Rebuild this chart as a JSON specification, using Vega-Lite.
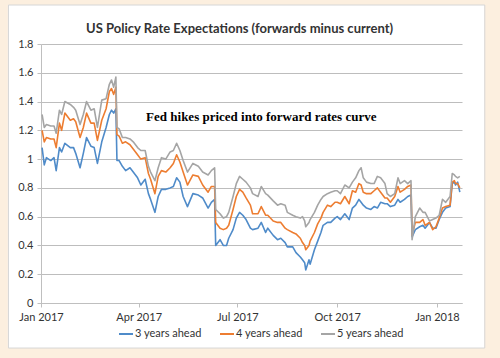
{
  "$schema": "https://vega.github.io/schema/vega-lite/v6.json",
  "autosize": {"type": "none"},
  "width": 421,
  "height": 259,
  "padding": {"left": 41, "top": 44, "right": 38, "bottom": 55},
  "background": "#ffffff",
  "config": {
    "view": {"stroke": null},
    "font": "Lato",
    "axisX": {
      "grid": false,
      "domainColor": "#BFBFBF",
      "tickColor": "#BFBFBF",
      "tickSize": 4,
      "labelFont": "Lato",
      "labelFontSize": 11,
      "labelColor": "#333333",
      "labelPadding": 4,
      "labelFlush": false,
      "labelOverlap": false
    },
    "axisY": {
      "grid": true,
      "gridColor": "#BDBDBD",
      "gridWidth": 1,
      "domainColor": "#BFBFBF",
      "tickColor": "#BFBFBF",
      "tickSize": 4,
      "labelFont": "Lato",
      "labelFontSize": 11,
      "labelColor": "#333333",
      "labelPadding": 4,
      "labelOverlap": false,
      "labelFlush": false
    }
  },
  "layer": [
    {
      "data": {"values": [{}]},
      "mark": {"type": "rect", "filled": false, "stroke": "#FCEFDF", "strokeWidth": 40},
      "encoding": {
        "x": {"datum": {"year": 2016, "month": 11, "date": 13}, "type": "temporal",
          "axis": {"title": null, "format": "%b %Y", "values": [{"year": 2017, "month": 1, "date": 1}, {"year": 2017, "month": 4, "date": 1}, {"year": 2017, "month": 7, "date": 1}, {"year": 2017, "month": 10, "date": 1}, {"year": 2018, "month": 1, "date": 1}]}},
        "x2": {"datum": {"year": 2018, "month": 3, "date": 4}},
        "y": {"datum": 2.21, "type": "quantitative",
          "axis": {"title": null, "format": ".1~f", "values": [0, 0.2, 0.4, 0.6, 0.8, 1, 1.2, 1.4, 1.6, 1.8]}},
        "y2": {"datum": -0.452}
      }
    },
    {
      "data": {"values": [{}]},
      "mark": {"type": "rect", "filled": false, "stroke": "#D6D6D6", "strokeWidth": 1},
      "encoding": {
        "x": {"datum": {"year": 2016, "month": 12, "date": 2}, "type": "temporal",
          "axis": {"title": null, "format": "%b %Y", "values": [{"year": 2017, "month": 1, "date": 1}, {"year": 2017, "month": 4, "date": 1}, {"year": 2017, "month": 7, "date": 1}, {"year": 2017, "month": 10, "date": 1}, {"year": 2018, "month": 1, "date": 1}]}},
        "x2": {"datum": {"year": 2018, "month": 2, "date": 14}},
        "y": {"datum": 2.071, "type": "quantitative",
          "axis": {"title": null, "format": ".1~f", "values": [0, 0.2, 0.4, 0.6, 0.8, 1, 1.2, 1.4, 1.6, 1.8]}},
        "y2": {"datum": -0.313}
      }
    },
    {
      "data": {"values": [{}]},
      "mark": {"type": "text", "text": "US Policy Rate Expectations (forwards minus current)", "font": "Lato", "fontWeight": "bold", "fontSize": 13, "color": "#333333", "align": "center", "baseline": "middle"},
      "encoding": {
        "x": {"datum": {"year": 2017, "month": 7, "date": 3}, "type": "temporal",
          "axis": {"title": null, "format": "%b %Y", "values": [{"year": 2017, "month": 1, "date": 1}, {"year": 2017, "month": 4, "date": 1}, {"year": 2017, "month": 7, "date": 1}, {"year": 2017, "month": 10, "date": 1}, {"year": 2018, "month": 1, "date": 1}]}},
        "y": {"datum": 1.904, "type": "quantitative",
          "axis": {"title": null, "format": ".1~f", "values": [0, 0.2, 0.4, 0.6, 0.8, 1, 1.2, 1.4, 1.6, 1.8]}}
      }
    },
    {
      "data": {"values": [{}]},
      "mark": {"type": "text", "text": "Fed hikes priced into forward rates curve", "font": "Liberation Serif", "fontWeight": "bold", "fontSize": 13, "color": "#000000", "align": "center", "baseline": "middle"},
      "encoding": {
        "x": {"datum": {"year": 2017, "month": 7, "date": 23}, "type": "temporal",
          "axis": {"title": null, "format": "%b %Y", "values": [{"year": 2017, "month": 1, "date": 1}, {"year": 2017, "month": 4, "date": 1}, {"year": 2017, "month": 7, "date": 1}, {"year": 2017, "month": 10, "date": 1}, {"year": 2018, "month": 1, "date": 1}]}},
        "y": {"datum": 1.293, "type": "quantitative",
          "axis": {"title": null, "format": ".1~f", "values": [0, 0.2, 0.4, 0.6, 0.8, 1, 1.2, 1.4, 1.6, 1.8]}}
      }
    },
    {
      "data": {"values": [
        {"date":"2017-01-02","3 years ahead":1.08,"4 years ahead":1.20,"5 years ahead":1.31},
        {"date":"2017-01-04","3 years ahead":0.96,"4 years ahead":1.12,"5 years ahead":1.22},
        {"date":"2017-01-06","3 years ahead":1.01,"4 years ahead":1.15,"5 years ahead":1.24},
        {"date":"2017-01-10","3 years ahead":0.99,"4 years ahead":1.14,"5 years ahead":1.23},
        {"date":"2017-01-13","3 years ahead":1.01,"4 years ahead":1.14,"5 years ahead":1.23},
        {"date":"2017-01-15","3 years ahead":0.92,"4 years ahead":1.08,"5 years ahead":1.18},
        {"date":"2017-01-18","3 years ahead":1.08,"4 years ahead":1.25,"5 years ahead":1.34},
        {"date":"2017-01-20","3 years ahead":1.05,"4 years ahead":1.20,"5 years ahead":1.31},
        {"date":"2017-01-23","3 years ahead":1.11,"4 years ahead":1.32,"5 years ahead":1.40},
        {"date":"2017-01-28","3 years ahead":1.08,"4 years ahead":1.27,"5 years ahead":1.38},
        {"date":"2017-01-31","3 years ahead":1.08,"4 years ahead":1.28,"5 years ahead":1.36},
        {"date":"2017-02-02","3 years ahead":1.04,"4 years ahead":1.26,"5 years ahead":1.34},
        {"date":"2017-02-06","3 years ahead":0.94,"4 years ahead":1.15,"5 years ahead":1.24},
        {"date":"2017-02-09","3 years ahead":1.04,"4 years ahead":1.22,"5 years ahead":1.31},
        {"date":"2017-02-12","3 years ahead":1.15,"4 years ahead":1.32,"5 years ahead":1.40},
        {"date":"2017-02-16","3 years ahead":1.09,"4 years ahead":1.25,"5 years ahead":1.34},
        {"date":"2017-02-19","3 years ahead":1.08,"4 years ahead":1.25,"5 years ahead":1.35},
        {"date":"2017-02-22","3 years ahead":0.97,"4 years ahead":1.13,"5 years ahead":1.22},
        {"date":"2017-02-26","3 years ahead":1.12,"4 years ahead":1.27,"5 years ahead":1.41},
        {"date":"2017-03-02","3 years ahead":1.22,"4 years ahead":1.35,"5 years ahead":1.42},
        {"date":"2017-03-05","3 years ahead":1.31,"4 years ahead":1.47,"5 years ahead":1.52},
        {"date":"2017-03-07","3 years ahead":1.34,"4 years ahead":1.49,"5 years ahead":1.55},
        {"date":"2017-03-09","3 years ahead":1.32,"4 years ahead":1.45,"5 years ahead":1.50},
        {"date":"2017-03-11","3 years ahead":1.35,"4 years ahead":1.50,"5 years ahead":1.57},
        {"date":"2017-03-12","3 years ahead":0.99,"4 years ahead":1.17,"5 years ahead":1.22},
        {"date":"2017-03-14","3 years ahead":0.99,"4 years ahead":1.16,"5 years ahead":1.21},
        {"date":"2017-03-17","3 years ahead":0.95,"4 years ahead":1.11,"5 years ahead":1.15},
        {"date":"2017-03-20","3 years ahead":0.92,"4 years ahead":1.12,"5 years ahead":1.15},
        {"date":"2017-03-24","3 years ahead":0.94,"4 years ahead":1.10,"5 years ahead":1.14},
        {"date":"2017-03-27","3 years ahead":0.91,"4 years ahead":1.07,"5 years ahead":1.12},
        {"date":"2017-03-31","3 years ahead":0.87,"4 years ahead":1.03,"5 years ahead":1.08},
        {"date":"2017-04-03","3 years ahead":0.82,"4 years ahead":1.00,"5 years ahead":1.06},
        {"date":"2017-04-07","3 years ahead":0.86,"4 years ahead":1.01,"5 years ahead":1.06},
        {"date":"2017-04-10","3 years ahead":0.76,"4 years ahead":0.90,"5 years ahead":0.95},
        {"date":"2017-04-12","3 years ahead":0.72,"4 years ahead":0.86,"5 years ahead":0.91},
        {"date":"2017-04-16","3 years ahead":0.63,"4 years ahead":0.76,"5 years ahead":0.85},
        {"date":"2017-04-19","3 years ahead":0.74,"4 years ahead":0.88,"5 years ahead":0.94},
        {"date":"2017-04-22","3 years ahead":0.79,"4 years ahead":0.92,"5 years ahead":1.01},
        {"date":"2017-04-26","3 years ahead":0.79,"4 years ahead":0.91,"5 years ahead":1.00},
        {"date":"2017-04-30","3 years ahead":0.80,"4 years ahead":0.94,"5 years ahead":1.05},
        {"date":"2017-05-03","3 years ahead":0.81,"4 years ahead":0.97,"5 years ahead":1.06},
        {"date":"2017-05-06","3 years ahead":0.87,"4 years ahead":1.03,"5 years ahead":1.11},
        {"date":"2017-05-09","3 years ahead":0.84,"4 years ahead":0.98,"5 years ahead":1.06},
        {"date":"2017-05-12","3 years ahead":0.74,"4 years ahead":0.91,"5 years ahead":0.99},
        {"date":"2017-05-16","3 years ahead":0.67,"4 years ahead":0.82,"5 years ahead":0.91},
        {"date":"2017-05-21","3 years ahead":0.76,"4 years ahead":0.89,"5 years ahead":0.97},
        {"date":"2017-05-26","3 years ahead":0.75,"4 years ahead":0.88,"5 years ahead":0.95},
        {"date":"2017-05-30","3 years ahead":0.73,"4 years ahead":0.82,"5 years ahead":0.91},
        {"date":"2017-06-04","3 years ahead":0.66,"4 years ahead":0.77,"5 years ahead":0.89},
        {"date":"2017-06-07","3 years ahead":0.70,"4 years ahead":0.81,"5 years ahead":0.92},
        {"date":"2017-06-10","3 years ahead":0.72,"4 years ahead":0.81,"5 years ahead":0.94},
        {"date":"2017-06-11","3 years ahead":0.40,"4 years ahead":0.56,"5 years ahead":0.65},
        {"date":"2017-06-15","3 years ahead":0.44,"4 years ahead":0.52,"5 years ahead":0.62},
        {"date":"2017-06-18","3 years ahead":0.40,"4 years ahead":0.51,"5 years ahead":0.59},
        {"date":"2017-06-21","3 years ahead":0.40,"4 years ahead":0.52,"5 years ahead":0.60},
        {"date":"2017-06-23","3 years ahead":0.45,"4 years ahead":0.54,"5 years ahead":0.63},
        {"date":"2017-06-27","3 years ahead":0.51,"4 years ahead":0.65,"5 years ahead":0.74},
        {"date":"2017-06-30","3 years ahead":0.59,"4 years ahead":0.74,"5 years ahead":0.83},
        {"date":"2017-07-03","3 years ahead":0.63,"4 years ahead":0.79,"5 years ahead":0.88},
        {"date":"2017-07-06","3 years ahead":0.61,"4 years ahead":0.77,"5 years ahead":0.86},
        {"date":"2017-07-09","3 years ahead":0.58,"4 years ahead":0.73,"5 years ahead":0.84},
        {"date":"2017-07-13","3 years ahead":0.52,"4 years ahead":0.68,"5 years ahead":0.80},
        {"date":"2017-07-15","3 years ahead":0.51,"4 years ahead":0.62,"5 years ahead":0.76},
        {"date":"2017-07-20","3 years ahead":0.52,"4 years ahead":0.62,"5 years ahead":0.74},
        {"date":"2017-07-23","3 years ahead":0.56,"4 years ahead":0.67,"5 years ahead":0.81},
        {"date":"2017-07-27","3 years ahead":0.49,"4 years ahead":0.61,"5 years ahead":0.76},
        {"date":"2017-07-29","3 years ahead":0.52,"4 years ahead":0.61,"5 years ahead":0.75},
        {"date":"2017-08-03","3 years ahead":0.47,"4 years ahead":0.57,"5 years ahead":0.71},
        {"date":"2017-08-07","3 years ahead":0.44,"4 years ahead":0.56,"5 years ahead":0.68},
        {"date":"2017-08-10","3 years ahead":0.45,"4 years ahead":0.56,"5 years ahead":0.69},
        {"date":"2017-08-14","3 years ahead":0.42,"4 years ahead":0.52,"5 years ahead":0.68},
        {"date":"2017-08-16","3 years ahead":0.39,"4 years ahead":0.51,"5 years ahead":0.63},
        {"date":"2017-08-21","3 years ahead":0.39,"4 years ahead":0.49,"5 years ahead":0.61},
        {"date":"2017-08-24","3 years ahead":0.35,"4 years ahead":0.48,"5 years ahead":0.60},
        {"date":"2017-08-28","3 years ahead":0.32,"4 years ahead":0.45,"5 years ahead":0.59},
        {"date":"2017-08-30","3 years ahead":0.30,"4 years ahead":0.42,"5 years ahead":0.60},
        {"date":"2017-09-01","3 years ahead":0.28,"4 years ahead":0.40,"5 years ahead":0.57},
        {"date":"2017-09-02","3 years ahead":0.23,"4 years ahead":0.37,"5 years ahead":0.53},
        {"date":"2017-09-05","3 years ahead":0.30,"4 years ahead":0.40,"5 years ahead":0.56},
        {"date":"2017-09-06","3 years ahead":0.27,"4 years ahead":0.43,"5 years ahead":0.58},
        {"date":"2017-09-10","3 years ahead":0.37,"4 years ahead":0.49,"5 years ahead":0.63},
        {"date":"2017-09-13","3 years ahead":0.43,"4 years ahead":0.55,"5 years ahead":0.68},
        {"date":"2017-09-16","3 years ahead":0.49,"4 years ahead":0.59,"5 years ahead":0.72},
        {"date":"2017-09-18","3 years ahead":0.54,"4 years ahead":0.63,"5 years ahead":0.74},
        {"date":"2017-09-22","3 years ahead":0.56,"4 years ahead":0.68,"5 years ahead":0.76},
        {"date":"2017-09-25","3 years ahead":0.56,"4 years ahead":0.67,"5 years ahead":0.77},
        {"date":"2017-09-29","3 years ahead":0.59,"4 years ahead":0.70,"5 years ahead":0.78},
        {"date":"2017-10-01","3 years ahead":0.60,"4 years ahead":0.70,"5 years ahead":0.78},
        {"date":"2017-10-04","3 years ahead":0.58,"4 years ahead":0.69,"5 years ahead":0.76},
        {"date":"2017-10-08","3 years ahead":0.62,"4 years ahead":0.74,"5 years ahead":0.82},
        {"date":"2017-10-12","3 years ahead":0.58,"4 years ahead":0.69,"5 years ahead":0.80},
        {"date":"2017-10-15","3 years ahead":0.66,"4 years ahead":0.78,"5 years ahead":0.84},
        {"date":"2017-10-18","3 years ahead":0.68,"4 years ahead":0.77,"5 years ahead":0.87},
        {"date":"2017-10-21","3 years ahead":0.72,"4 years ahead":0.83,"5 years ahead":0.92},
        {"date":"2017-10-23","3 years ahead":0.70,"4 years ahead":0.82,"5 years ahead":0.94},
        {"date":"2017-10-25","3 years ahead":0.68,"4 years ahead":0.77,"5 years ahead":0.87},
        {"date":"2017-10-28","3 years ahead":0.66,"4 years ahead":0.76,"5 years ahead":0.84},
        {"date":"2017-11-01","3 years ahead":0.65,"4 years ahead":0.76,"5 years ahead":0.83},
        {"date":"2017-11-04","3 years ahead":0.67,"4 years ahead":0.78,"5 years ahead":0.83},
        {"date":"2017-11-07","3 years ahead":0.66,"4 years ahead":0.80,"5 years ahead":0.88},
        {"date":"2017-11-10","3 years ahead":0.70,"4 years ahead":0.77,"5 years ahead":0.87},
        {"date":"2017-11-14","3 years ahead":0.69,"4 years ahead":0.73,"5 years ahead":0.83},
        {"date":"2017-11-16","3 years ahead":0.69,"4 years ahead":0.73,"5 years ahead":0.76},
        {"date":"2017-11-19","3 years ahead":0.67,"4 years ahead":0.70,"5 years ahead":0.74},
        {"date":"2017-11-23","3 years ahead":0.68,"4 years ahead":0.74,"5 years ahead":0.76},
        {"date":"2017-11-26","3 years ahead":0.72,"4 years ahead":0.81,"5 years ahead":0.87},
        {"date":"2017-11-28","3 years ahead":0.70,"4 years ahead":0.77,"5 years ahead":0.83},
        {"date":"2017-12-02","3 years ahead":0.72,"4 years ahead":0.79,"5 years ahead":0.85},
        {"date":"2017-12-05","3 years ahead":0.74,"4 years ahead":0.81,"5 years ahead":0.83},
        {"date":"2017-12-08","3 years ahead":0.75,"4 years ahead":0.82,"5 years ahead":0.85},
        {"date":"2017-12-09","3 years ahead":0.46,"4 years ahead":0.47,"5 years ahead":0.44},
        {"date":"2017-12-12","3 years ahead":0.51,"4 years ahead":0.56,"5 years ahead":0.60},
        {"date":"2017-12-16","3 years ahead":0.53,"4 years ahead":0.56,"5 years ahead":0.66},
        {"date":"2017-12-19","3 years ahead":0.54,"4 years ahead":0.58,"5 years ahead":0.63},
        {"date":"2017-12-21","3 years ahead":0.52,"4 years ahead":0.54,"5 years ahead":0.63},
        {"date":"2017-12-25","3 years ahead":0.56,"4 years ahead":0.56,"5 years ahead":0.57},
        {"date":"2017-12-28","3 years ahead":0.52,"4 years ahead":0.51,"5 years ahead":0.58},
        {"date":"2017-12-31","3 years ahead":0.52,"4 years ahead":0.53,"5 years ahead":0.59},
        {"date":"2018-01-03","3 years ahead":0.58,"4 years ahead":0.59,"5 years ahead":0.61},
        {"date":"2018-01-06","3 years ahead":0.63,"4 years ahead":0.66,"5 years ahead":0.72},
        {"date":"2018-01-09","3 years ahead":0.66,"4 years ahead":0.67,"5 years ahead":0.70},
        {"date":"2018-01-13","3 years ahead":0.67,"4 years ahead":0.68,"5 years ahead":0.74},
        {"date":"2018-01-15","3 years ahead":0.83,"4 years ahead":0.84,"5 years ahead":0.90},
        {"date":"2018-01-17","3 years ahead":0.84,"4 years ahead":0.85,"5 years ahead":0.89},
        {"date":"2018-01-18","3 years ahead":0.82,"4 years ahead":0.83,"5 years ahead":0.88},
        {"date":"2018-01-20","3 years ahead":0.84,"4 years ahead":0.83,"5 years ahead":0.87},
        {"date":"2018-01-22","3 years ahead":0.77,"4 years ahead":0.80,"5 years ahead":0.88}
      ]},
      "transform": [{"fold": ["3 years ahead", "4 years ahead", "5 years ahead"], "as": ["series", "value"]}],
      "mark": {"type": "line", "strokeWidth": 1.6, "strokeJoin": "round"},
      "encoding": {
        "x": {
          "field": "date", "type": "temporal",
          "scale": {"domain": [{"year": 2017, "month": 1, "date": 1}, {"year": 2018, "month": 1, "date": 24}]},
          "axis": {"title": null, "format": "%b %Y", "values": [{"year": 2017, "month": 1, "date": 1}, {"year": 2017, "month": 4, "date": 1}, {"year": 2017, "month": 7, "date": 1}, {"year": 2017, "month": 10, "date": 1}, {"year": 2018, "month": 1, "date": 1}]}
        },
        "y": {
          "field": "value", "type": "quantitative",
          "scale": {"domain": [0, 1.8], "nice": false, "zero": true},
          "axis": {"title": null, "format": ".1~f", "values": [0, 0.2, 0.4, 0.6, 0.8, 1, 1.2, 1.4, 1.6, 1.8]}
        },
        "color": {
          "field": "series", "type": "nominal",
          "scale": {"domain": ["3 years ahead", "4 years ahead", "5 years ahead"], "range": ["#4F8BC9", "#ED7D31", "#A5A5A5"]},
          "legend": {
            "title": null,
            "orient": "none",
            "direction": "horizontal",
            "columns": 3,
            "legendX": 77,
            "legendY": 282,
            "symbolType": "stroke",
            "symbolSize": 196,
            "symbolStrokeWidth": 2,
            "labelFont": "Lato",
            "labelFontSize": 11,
            "labelColor": "#333333",
            "labelOffset": 1,
            "columnPadding": 14,
            "padding": 0
          }
        }
      }
    }
  ]
}
